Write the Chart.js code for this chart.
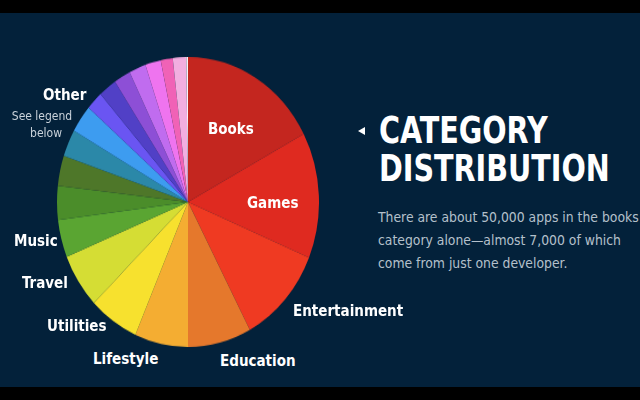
<!DOCTYPE html>
<html>
<head>
<meta charset="utf-8">
<script src="https://cdn.jsdelivr.net/npm/chart.js@4.4.0/dist/chart.umd.min.js"></script>
<style>
  html, body { margin:0; padding:0; width:640px; height:400px; background:#000; overflow:hidden; }
  #stage { position:absolute; left:0; top:13px; width:640px; height:374px; background:#03213a; }
  #pieWrap { position:absolute; left:57px; top:71px; width:262px; height:262px; transform:scaleY(1.107); transform-origin:50% 50%; }
  #pieWrap canvas { position:absolute; left:0; top:0; }
  .lbl { position:absolute; color:#fff; font-family:"DejaVu Sans Condensed","DejaVu Sans",sans-serif; font-weight:bold; font-size:15px; line-height:1; white-space:nowrap; transform:translateY(-50%); }
  .small { position:absolute; color:#c9d2da; font-family:"DejaVu Sans Condensed","DejaVu Sans",sans-serif; font-size:12px; line-height:1; white-space:nowrap; transform:translate(-50%,-50%); }
  .title { position:absolute; left:379px; color:#fff; font-family:"DejaVu Sans Condensed","DejaVu Sans",sans-serif; font-weight:bold; font-size:37px; line-height:1; white-space:nowrap; transform:scaleX(0.86); transform-origin:0 0; }
  .para { position:absolute; left:378px; color:#b4c0cb; font-family:"DejaVu Sans Condensed","DejaVu Sans",sans-serif; font-size:13.8px; line-height:1; white-space:nowrap; transform:translateY(-50%); }
  #tri { position:absolute; left:358px; top:127px; width:0; height:0; border-top:4px solid transparent; border-bottom:4px solid transparent; border-right:7px solid #fff; }
</style>
</head>
<body>
<div id="stage"></div>
<div id="pieWrap"><canvas id="pie" width="262" height="262"></canvas></div>

<div class="lbl" style="left:43px;top:95px;">Other</div>
<div class="small" style="left:42px;top:116px;">See legend</div>
<div class="small" style="left:46px;top:133px;">below</div>
<div class="lbl" style="left:14px;top:241px;">Music</div>
<div class="lbl" style="left:22px;top:283px;">Travel</div>
<div class="lbl" style="left:47px;top:326px;">Utilities</div>
<div class="lbl" style="left:93px;top:359px;">Lifestyle</div>
<div class="lbl" style="left:220px;top:361px;">Education</div>
<div class="lbl" style="left:293px;top:311px;">Entertainment</div>
<div class="lbl" style="left:208px;top:129px;">Books</div>
<div class="lbl" style="left:247px;top:203px;">Games</div>

<div id="tri"></div>
<div class="title" style="top:112px;">CATEGORY</div>
<div class="title" style="top:150px;">DISTRIBUTION</div>
<div class="para" style="top:218px;">There are about 50,000 apps in the books</div>
<div class="para" style="top:241px;">category alone—almost 7,000 of which</div>
<div class="para" style="top:264px;">come from just one developer.</div>

<script>
// Category names (clockwise from 12 o'clock)
const categories = ['Books','Games','Entertainment','Education','Lifestyle','Utilities','Travel','Music',
  'Other 1','Other 2','Other 3','Other 4','Other 5','Other 6','Other 7','Other 8','Other 9','Other 10','Other 11','Other 12'];
// Approximate app counts, thousands (Books ≈ 50,000)
const appCounts = [50, 40.7, 31.7, 22.7, 19.1, 17.9, 17.7, 12.1,
  11.0, 9.7, 8.8, 9.0, 6.0, 6.5, 6.0, 6.0, 5.6, 4.3, 4.8, 0.6];
const sliceColors = ['#c4261f','#df2a20','#ef3a22','#e5782c','#f4ad32','#f7e12e','#d5dd34','#5aa532',
  '#4b8d2a','#4e7729','#2b88a8','#3d9cf0','#6a55f2','#5140c6','#8d4fd6','#c06cef','#ef74ef','#f062b6','#f2aee0','#faf0f8'];

new Chart(document.getElementById('pie'), {
  type: 'pie',
  data: {
    labels: categories,
    datasets: [{ data: appCounts, backgroundColor: sliceColors, borderWidth: 0 }]
  },
  options: {
    responsive: false,
    animation: false,
    rotation: 0,
    layout: { padding: 0 },
    plugins: { legend: { display: false }, tooltip: { enabled: false } }
  }
});
</script>
</body>
</html>
